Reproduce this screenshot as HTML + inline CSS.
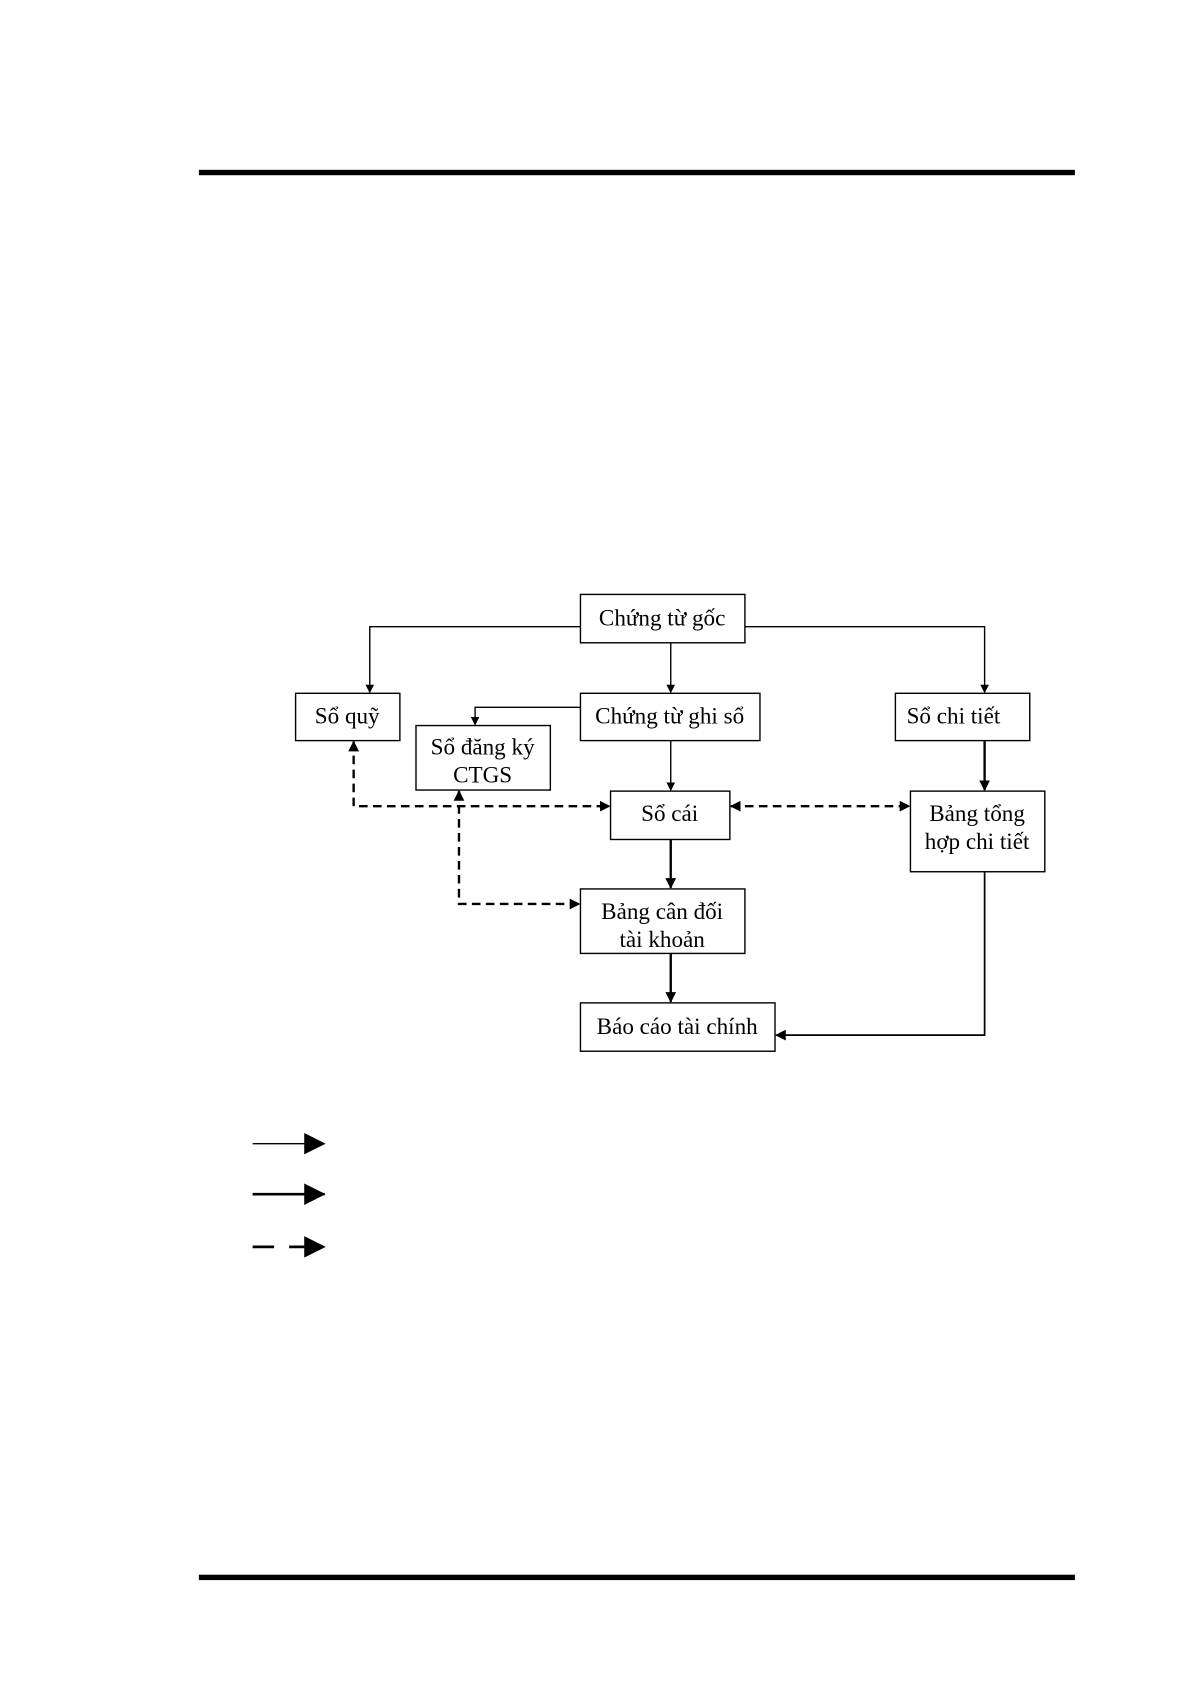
<!DOCTYPE html>
<html><head><meta charset="utf-8"><style>
html,body{margin:0;padding:0;background:#fff;width:1191px;height:1685px;overflow:hidden}
svg{display:block}
text{font-family:"Liberation Serif",serif;font-size:21.5px;fill:#000;text-anchor:middle}
</style></head><body>
<svg width="1191" height="1685" viewBox="0 0 1108 1567.6" xmlns="http://www.w3.org/2000/svg">
<defs>
<marker id="a" markerWidth="8" markerHeight="8" refX="7" refY="4" orient="auto" markerUnits="userSpaceOnUse"><path d="M0,0 L8,4 L0,8 z" fill="#000"/></marker>
<marker id="b" markerWidth="10" markerHeight="10" refX="9" refY="5" orient="auto-start-reverse" markerUnits="userSpaceOnUse"><path d="M0,0 L10,5 L0,10 z" fill="#000"/></marker>
<marker id="L" markerWidth="20" markerHeight="20" refX="19" refY="10" orient="auto" markerUnits="userSpaceOnUse"><path d="M0,0 L20,10 L0,20 z" fill="#000"/></marker>
</defs>
<rect x="185" y="158" width="815" height="5" fill="#000"/>
<rect x="185" y="1465" width="815" height="5" fill="#000"/>
<g fill="none" stroke="#000" stroke-width="1.3">
<rect x="540" y="553" width="153" height="45"/>
<rect x="275" y="645" width="97" height="44"/>
<rect x="540" y="645" width="167" height="44"/>
<rect x="833" y="645" width="125" height="44"/>
<rect x="387" y="675" width="125" height="60"/>
<rect x="568" y="736" width="111" height="45"/>
<rect x="847" y="736" width="125" height="75"/>
<rect x="540" y="827" width="153" height="60"/>
<rect x="540" y="933" width="181" height="45"/>
<path d="M540,583 H344 V644" marker-end="url(#a)"/>
<path d="M693,583 H916 V644" marker-end="url(#a)"/>
<path d="M624,598 V644" marker-end="url(#a)"/>
<path d="M540,658 H442 V674" marker-end="url(#a)"/>
<path d="M624,689 V735" marker-end="url(#a)"/>
</g>
<g fill="none" stroke="#000" stroke-width="2.2">
<path d="M624,781 V826" marker-end="url(#b)"/>
<path d="M624,887 V932" marker-end="url(#b)"/>
<path d="M916,689 V735" marker-end="url(#b)"/>
<path d="M916,811 V963 H722" stroke-width="1.6" marker-end="url(#b)"/>
<g stroke-dasharray="8,5">
<path d="M329,690 V750 H567" marker-start="url(#b)" marker-end="url(#b)"/>
<path d="M427,736 V841 H539" marker-start="url(#b)" marker-end="url(#b)"/>
<path d="M680,750 H846" marker-start="url(#b)" marker-end="url(#b)"/>
</g>
<path d="M235,1064 H302" stroke-width="1.3" marker-end="url(#L)"/>
<path d="M235,1111 H302" stroke-width="2.5" marker-end="url(#L)"/>
<path d="M235,1160 H302" stroke-width="2.5" stroke-dasharray="20,14" marker-end="url(#L)"/>
</g>
<text x="616" y="582">Chứng từ gốc</text>
<text x="323" y="673">Sổ quỹ</text>
<text x="623" y="673">Chứng từ ghi sổ</text>
<text x="887" y="673">Sổ chi tiết</text>
<text x="449" y="702">Sổ đăng ký</text>
<text x="449" y="728">CTGS</text>
<text x="623" y="764">Sổ cái</text>
<text x="909" y="764">Bảng tổng</text>
<text x="909" y="790">hợp chi tiết</text>
<text x="616" y="855">Bảng cân đối</text>
<text x="616" y="881">tài khoản</text>
<text x="630" y="962">Báo cáo tài chính</text>
</svg>
</body></html>
